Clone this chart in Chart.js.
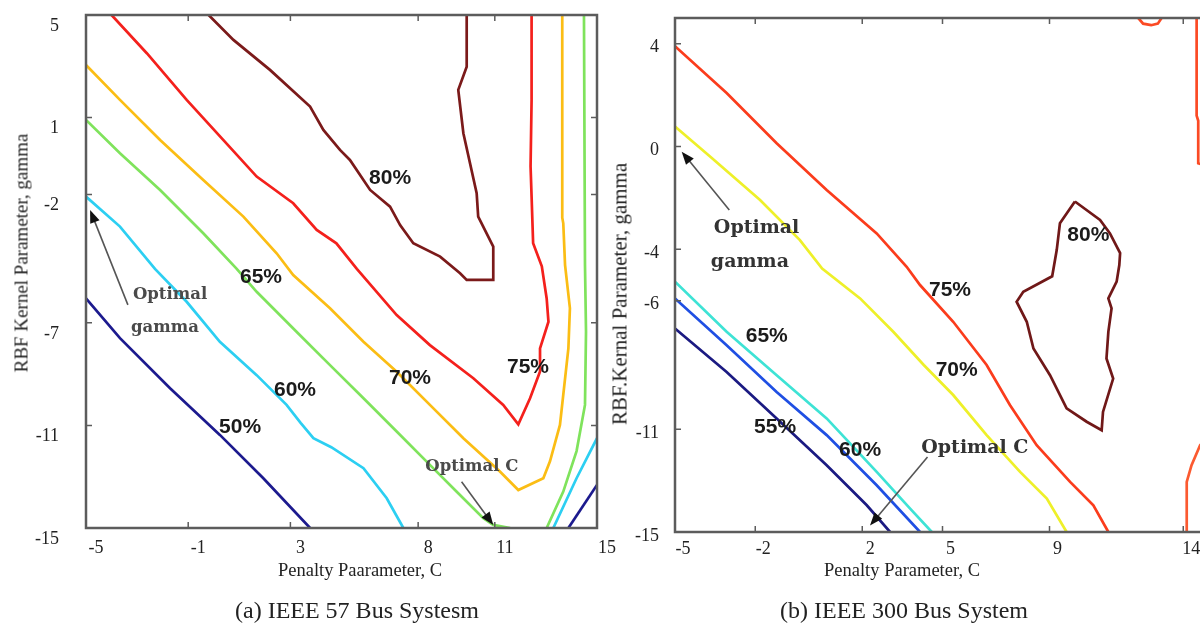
<!DOCTYPE html>
<html>
<head>
<meta charset="utf-8">
<script src="https://cdn.jsdelivr.net/npm/chart.js@4.4.1/dist/chart.umd.min.js"></script>
<style>
  html, body { margin: 0; padding: 0; background: #fff; width: 1200px; height: 628px; overflow: hidden; position: relative; }
  #wrapA { position: absolute; left: 0; top: 0; width: 625px; height: 628px; }
  #wrapB { position: absolute; left: 600px; top: 0; width: 640px; height: 628px; }
  .txt { position: absolute; font-family: "Liberation Serif", serif; color: #222; white-space: nowrap; line-height: 1; }
  .cap { top: 598px; font-size: 24px; transform: translateX(-50%); }
  .xt { top: 561px; font-size: 18.5px; transform: translateX(-50%); }
  .yt { transform: translate(-50%, -50%) rotate(-90deg); }
</style>
</head>
<body>
<div id="wrapA"><canvas id="chartA" width="625" height="628"></canvas></div>
<div id="wrapB"><canvas id="chartB" width="640" height="628"></canvas></div>
<div class="txt cap" style="left:357px">(a) IEEE 57 Bus Systesm</div>
<div class="txt cap" style="left:904px">(b) IEEE 300 Bus System</div>
<div class="txt xt" style="left:360px">Penalty Paarameter, C</div>
<div class="txt xt" style="left:902px">Penalty Parameter, C</div>
<div class="txt yt" style="left:21px; top:253px; font-size:19px">RBF Kernel Parameter, gamma</div>
<div class="txt yt" style="left:620px; top:294px; font-size:21px">RBF.Kernal Parameter, gamma</div>
<script>
// tick labels
const aTicksX = [-5, -1, 3, 8, 11, 15];
const aTicksY = [5, 1, -2, -7, -11, -15];
const bTicksX = [-5, -2, 2, 5, 9, 14];
const bTicksY = [4, 0, -4, -6, -11, -15];

// (a) IEEE 57 bus contours, [C, gamma]
const a80 = [[-0.2, 5], [0.77, 4.03], [2.2, 2.86], [3.77, 1.43], [4.29, 0.52], [4.94, -0.26], [5.33, -0.65], [6.12, -1.82],
  [6.9, -2.47], [7.3, -3.2], [7.81, -3.9], [8.86, -4.42], [9.64, -5.07], [9.9, -5.33], [10.94, -5.33], [10.94, -4.03],
  [10.35, -2.86], [10.29, -1.95], [9.77, 0.39], [9.57, 2.08], [9.9, 2.98], [9.9, 5]];
const a75 = [[-4.0, 5], [-2.62, 3.51], [-1.06, 1.69], [0.37, 0.13], [1.68, -1.3], [3.11, -2.34], [4.03, -3.38], [4.8, -3.9],
  [5.6, -4.9], [7.16, -6.7], [8.46, -7.87], [10.16, -9.16], [11.33, -10.2], [11.92, -10.96], [12.38, -9.94], [12.77, -8.9],
  [12.77, -8.0], [13.1, -6.96], [13.03, -6.05], [12.84, -4.8], [12.5, -3.9], [12.44, -2.08], [12.4, -0.91], [12.44, 1.69], [12.44, 5]];
const a70 = [[-5, 3.05], [-3.67, 1.69], [-2.1, 0.13], [-0.41, -1.43], [1.16, -2.86], [2.46, -4.29], [3.11, -5.14], [4.55, -6.43],
  [5.86, -7.74], [7.16, -8.91], [8.46, -10.2], [9.77, -11.5], [11.2, -12.8], [11.92, -13.52], [12.9, -13.06], [13.16, -12.4],
  [13.55, -10.98], [13.88, -8.0], [13.94, -6.43], [13.75, -4.75], [13.68, -3.12], [13.64, -2.9], [13.64, 0.39], [13.64, 5]];
const a65 = [[-5, 0.91], [-3.67, -0.39], [-2.1, -1.82], [-0.41, -3.51], [0.9, -4.9], [1.68, -5.79], [3.24, -7.35], [4.55, -8.65],
  [5.86, -9.94], [7.16, -11.24], [8.46, -12.54], [9.5, -13.58], [10.55, -14.62], [10.94, -14.88], [11.6, -15]];
const a65b = [[13.03, -15], [13.68, -13.58], [14.2, -12.0], [14.53, -10.2], [14.57, -7.35], [14.53, -4.75], [14.49, 5]];
const a60 = [[-5, -2.08], [-3.67, -3.25], [-2.3, -4.9], [-1.06, -6.18], [0.24, -7.74], [1.68, -9.04], [2.85, -10.2], [3.4, -10.9],
  [3.9, -11.5], [4.6, -11.85], [5.86, -12.67], [6.77, -13.84], [7.42, -15]];
const a60b = [[13.29, -15], [14.2, -13.06], [15, -11.5]];
const a50 = [[-5, -6.05], [-3.67, -7.6], [-1.71, -9.55], [0.24, -11.37], [1.94, -13.06], [3.77, -15]];
const a50b = [[13.88, -15], [15, -13.32]];

// (b) IEEE 300 bus contours, [C, gamma]
const b80 = [[9.95, -2.14], [9.39, -2.99], [9.27, -4.03], [9.1, -5.05], [8.02, -5.65], [7.77, -6.04], [8.15, -6.82], [8.4, -7.86],
  [9.02, -8.9], [9.64, -10.19], [10.39, -10.71], [10.95, -11.04], [11.0, -10.33], [11.38, -9.03], [11.13, -8.25], [11.2, -7.21],
  [11.32, -6.3], [11.2, -5.91], [11.51, -5.26], [11.61, -4.61], [11.64, -4.15], [11.26, -3.38], [10.89, -2.86], [9.95, -2.14]];
const b75 = [[-5, 3.9], [-3.07, 2.08], [-1.2, 0.13], [0.67, -1.69], [2.54, -3.38], [3.66, -4.68], [4.16, -5.39], [5.4, -6.82],
  [6.65, -8.5], [7.52, -10.06], [8.52, -11.62], [9.77, -13.05], [10.64, -13.96], [11.2, -15]];
const b75top = [[14.5, 5], [14.5, 1.2], [14.56, 1.0], [14.56, -0.65], [15, -0.8]];
const b75low = [[14.13, -15], [14.13, -13.05], [14.31, -12.4], [14.63, -11.62], [15, -11.2]];
const b75blob = [[12.32, 5], [12.5, 4.78], [12.8, 4.72], [13.05, 4.78], [13.19, 5]];
const b70 = [[-5, 0.78], [-3.69, -0.39], [-1.82, -2.08], [-0.33, -3.64], [0.5, -4.75], [1.92, -5.91], [3.16, -7.21], [4.3, -8.5],
  [5.4, -9.67], [6.65, -11.23], [7.9, -12.66], [8.9, -13.7], [9.64, -15]];
const b65 = [[-5, -5.26], [-3.07, -7.21], [-1.2, -8.9], [0.67, -10.58], [2.54, -12.66], [3.79, -14.09], [4.6, -15]];
const b60 = [[-5, -5.91], [-3.07, -7.73], [-1.2, -9.55], [0.67, -11.23], [2.54, -13.18], [4.16, -15]];
const b55 = [[-5, -7.08], [-3.07, -8.77], [-1.2, -10.58], [0.67, -12.4], [2.17, -13.96], [3.04, -15]];

// contour labels [text, C, gamma]
const aLevelLabels = [['80%', 6.9, -1.35], ['75%', 12.3, -8.72], ['70%', 7.68, -9.15], ['65%', 1.85, -5.21], ['60%', 3.18, -9.62], ['50%', 1.03, -11.06]];
const bLevelLabels = [['80%', 10.45, -3.44], ['75%', 5.28, -5.58], ['70%', 5.53, -8.7], ['65%', -1.57, -7.4], ['60%', 1.92, -11.83], ['55%', -1.26, -10.91]];

function line(points, color) {
    return {
        data: points.map(p => ({ x: p[0], y: p[1] })),
        borderColor: color,
        borderWidth: 2.7,
        pointRadius: 0,
        showLine: true,
        fill: false,
        tension: 0
    };
}

// frame, inward ticks, contour labels and arrows
const decor = {
    id: 'decor',
    afterDatasetsDraw(chart, args, opts) {
        const { ctx, chartArea: a, scales: { x, y } } = chart;
        ctx.save();
        ctx.strokeStyle = '#5c5c5c';
        ctx.lineWidth = 2.5;
        ctx.strokeRect(a.left, a.top, a.right - a.left, a.bottom - a.top);
        ctx.lineWidth = 1.5;
        ctx.beginPath();
        x.ticks.forEach(t => {
            const px = x.getPixelForValue(t.value);
            ctx.moveTo(px, a.bottom); ctx.lineTo(px, a.bottom - 6);
            ctx.moveTo(px, a.top); ctx.lineTo(px, a.top + 6);
        });
        y.ticks.forEach(t => {
            const py = y.getPixelForValue(t.value);
            ctx.moveTo(a.left, py); ctx.lineTo(a.left + 6, py);
            ctx.moveTo(a.right, py); ctx.lineTo(a.right - 6, py);
        });
        ctx.stroke();

        ctx.textAlign = 'center';
        ctx.textBaseline = 'middle';
        ctx.fillStyle = '#1b1b1b';
        ctx.font = opts.labelFont;
        opts.labels.forEach(l => {
            ctx.fillText(l[0], x.getPixelForValue(l[1]), y.getPixelForValue(l[2]));
        });

        opts.arrows.forEach(ar => {
            const x1 = x.getPixelForValue(ar[0]), y1 = y.getPixelForValue(ar[1]);
            const x2 = x.getPixelForValue(ar[2]), y2 = y.getPixelForValue(ar[3]);
            const ang = Math.atan2(y2 - y1, x2 - x1);
            ctx.strokeStyle = '#555';
            ctx.lineWidth = 1.6;
            ctx.beginPath();
            ctx.moveTo(x1, y1);
            ctx.lineTo(x2 - 8 * Math.cos(ang), y2 - 8 * Math.sin(ang));
            ctx.stroke();
            ctx.fillStyle = '#111';
            ctx.beginPath();
            ctx.moveTo(x2, y2);
            ctx.lineTo(x2 - 13 * Math.cos(ang) + 5 * Math.sin(ang), y2 - 13 * Math.sin(ang) - 5 * Math.cos(ang));
            ctx.lineTo(x2 - 13 * Math.cos(ang) - 5 * Math.sin(ang), y2 - 13 * Math.sin(ang) + 5 * Math.cos(ang));
            ctx.closePath();
            ctx.fill();
        });

        ctx.fillStyle = opts.noteColor;
        ctx.font = opts.noteFont;
        opts.notes.forEach(n => {
            ctx.fillText(n[0], x.getPixelForValue(n[1]), y.getPixelForValue(n[2]));
        });
        ctx.restore();
    }
};

const serif = { family: '"Liberation Serif", serif', size: 18 };

function makeScales(ticksX, ticksY, sz) {
    return {
        x: {
            type: 'linear', min: -5, max: 15,
            afterBuildTicks: s => { s.ticks = ticksX.map(v => ({ value: v })); },
            afterFit: s => { s.height = sz.xh; s.paddingLeft = 0; s.paddingRight = 0; },
            grid: { display: false, drawTicks: false }, border: { display: false },
            ticks: { font: serif, color: '#222', padding: sz.xpad, labelOffset: sz.xoff, maxRotation: 0, autoSkip: false }
        },
        y: {
            type: 'linear', min: -15, max: 5,
            afterBuildTicks: s => { s.ticks = ticksY.map(v => ({ value: v })); },
            afterFit: s => { s.width = sz.yw; s.paddingTop = 0; s.paddingBottom = 0; },
            grid: { display: false, drawTicks: false }, border: { display: false },
            ticks: { font: serif, color: '#222', padding: sz.ypad, labelOffset: sz.yoff, autoSkip: false }
        }
    };
}

new Chart(document.getElementById('chartA'), {
    type: 'scatter',
    data: {
        datasets: [
            line(a80, '#7b1a1a'),
            line(a75, '#f4201c'),
            line(a70, '#fbbd14'),
            line(a65, '#7fe35c'),
            line(a65b, '#7fe35c'),
            line(a60, '#2ccff2'),
            line(a60b, '#2ccff2'),
            line(a50, '#1c1a8e'),
            line(a50b, '#1c1a8e')
        ]
    },
    options: {
        responsive: false,
        animation: false,
        layout: { padding: { left: 0, top: 15, right: 28, bottom: 0 } },
        scales: makeScales(aTicksX, aTicksY, { xh: 100, xpad: 9, xoff: 10, yw: 86, ypad: 27, yoff: 11 }),
        plugins: {
            legend: { display: false },
            tooltip: { enabled: false },
            decor: {
                labelFont: 'bold 21px "Liberation Sans", sans-serif',
                labels: aLevelLabels,
                noteFont: 'bold 16.5px "DejaVu Serif", serif',
                noteColor: '#4a4a4a',
                notes: [['Optimal', -1.71, -5.92], ['gamma', -1.91, -7.2], ['Optimal C', 10.1, -12.61]],
                arrows: [[-3.36, -6.3, -4.84, -2.6], [9.7, -13.2, 10.94, -14.88]]
            }
        }
    },
    plugins: [decor]
});

new Chart(document.getElementById('chartB'), {
    type: 'scatter',
    data: {
        datasets: [
            line(b80, '#701818'),
            line(b75, '#fb3c1c'),
            line(b75top, '#fb4a24'),
            line(b75low, '#fb5a30'),
            line(b75blob, '#fb4a24'),
            line(b70, '#eef029'),
            line(b65, '#3ee3d5'),
            line(b60, '#1f4fe3'),
            line(b55, '#1b1a82')
        ]
    },
    options: {
        responsive: false,
        animation: false,
        layout: { padding: { left: 0, top: 18, right: 30, bottom: 0 } },
        scales: makeScales(bTicksX, bTicksY, { xh: 96, xpad: 6, xoff: 8, yw: 75, ypad: 16, yoff: 4 }),
        plugins: {
            legend: { display: false },
            tooltip: { enabled: false },
            decor: {
                labelFont: 'bold 21px "Liberation Sans", sans-serif',
                labels: bLevelLabels,
                noteFont: 'bold 19px "DejaVu Serif", serif',
                noteColor: '#333',
                notes: [['Optimal', -1.95, -3.18], ['gamma', -2.2, -4.48], ['Optimal C', 6.21, -11.74]],
                arrows: [[-2.97, -2.47, -4.75, -0.2], [4.44, -12.08, 2.29, -14.75]]
            }
        }
    },
    plugins: [decor]
});
</script>
</body>
</html>
